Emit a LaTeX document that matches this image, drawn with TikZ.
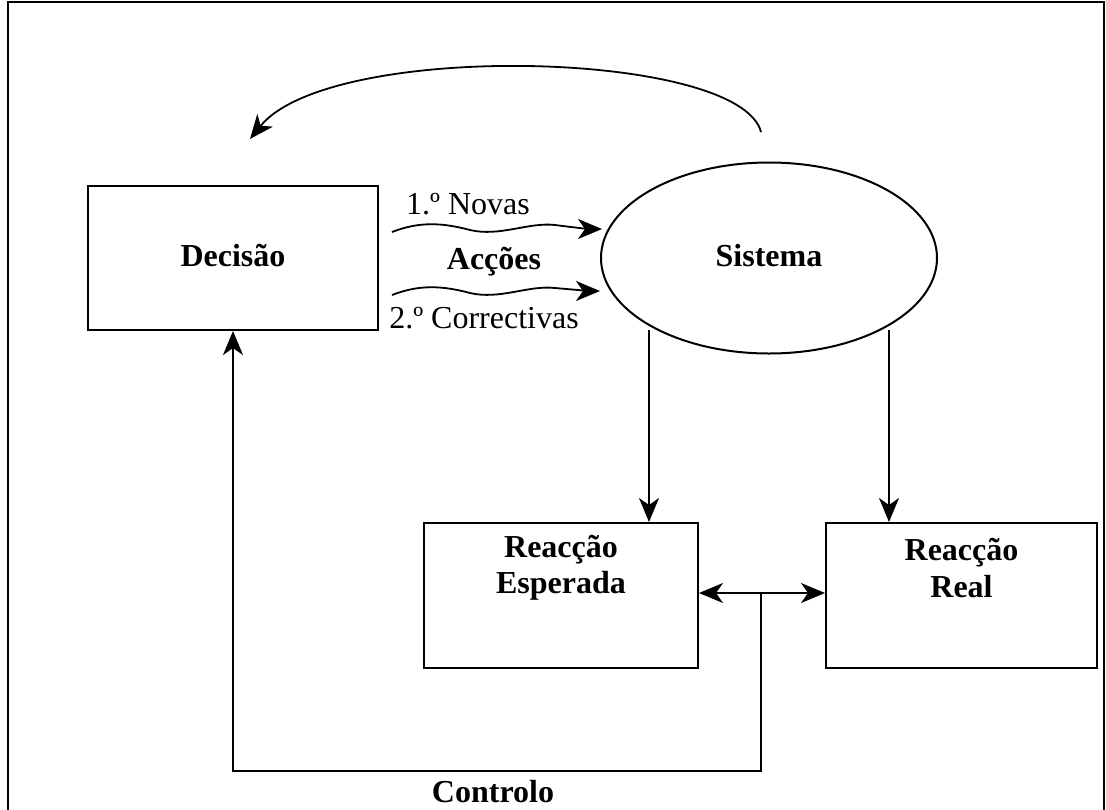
\documentclass[tikz,border=0pt]{standalone}
\usepackage{fontspec}
\setmainfont{Liberation Serif}
\usetikzlibrary{arrows.meta,shapes.geometric}
\begin{document}
\begin{tikzpicture}[x=1pt,y=-1pt,
  line width=1.8pt,
  tip/.style={-{Stealth[length=24pt,width=20pt,inset=7pt]}},
  box/.style={draw,line width=2pt,rectangle,inner sep=0pt},
  lbl/.style={font=\fontsize{32}{36}\selectfont,inner sep=0pt},
  blbl/.style={font=\fontsize{32}{36}\selectfont\bfseries,inner sep=0pt}]
\useasboundingbox (0,0) rectangle (1106,809);
% frame
\draw[line width=2pt] (8,812) -- (8,2) -- (1104,2) -- (1104,812);
% nodes
\node[box,minimum width=290pt,minimum height=144pt] (dec) at (233,258) {};
\node[blbl] (dect) at (233,256) {Decisão};
\node[draw,ellipse,line width=2pt,minimum width=336pt,minimum height=191pt,inner sep=0pt] (sis) at (769,258) {};
\node[blbl] (sist) at (769,256) {Sistema};
\node[box,minimum width=274pt,minimum height=145pt] (esp) at (561,595.5) {};
\node[blbl,align=center] (espt) at (561,568) {Reacção\\Esperada};
\node[box,minimum width=271pt,minimum height=145pt] (real) at (961.5,595.5) {};
\node[blbl,align=center] (realt) at (961.5,568) {Reacção\\Real};
% labels
\node[lbl] (n1) at (468,204) {1.º Novas};
\node[blbl] (acc) at (494,262) {Acções};
\node[lbl] (n2) at (484,318) {2.º Correctivas};
\node[blbl] (ctl) at (493,792) {Controlo};
% wavy arrows
\coordinate (w1s) at (392,232);
\coordinate (w1e) at (602,229);
\coordinate (w2s) at (392,295);
\coordinate (w2e) at (600,291);
\draw[tip] (w1s) .. controls (418,222) and (440,222) .. (470,230)
  .. controls (500,237) and (528,222) .. (555,225) .. controls (578,228) and (590,229) .. (w1e);
\draw[tip] (w2s) .. controls (418,285) and (440,285) .. (470,293)
  .. controls (500,300) and (528,285) .. (555,288) .. controls (578,290) and (590,291) .. (w2e);
% top arc
\coordinate (arcs) at (761,132);
\coordinate (arce) at (250,139);
\draw[tip] (arcs) .. controls (740,50) and (330,40) .. (arce);
% system to reactions
\coordinate (v1) at (649,330);
\coordinate (v2) at (889,330);
\draw[tip] (v1) -- (v1 |- esp.north);
\draw[tip] (v2) -- (v2 |- real.north);
% comparison and control
\coordinate (j) at (761,593);
\draw[tip] (j) -- (j -| esp.east);
\draw[tip] (j) -- (j -| real.west);
\coordinate (c1) at (761,771);
\coordinate (c2) at (233,771);
\draw[tip] (j) -- (c1) -- (c2) -- (dec.south);
\end{tikzpicture}
\end{document}
